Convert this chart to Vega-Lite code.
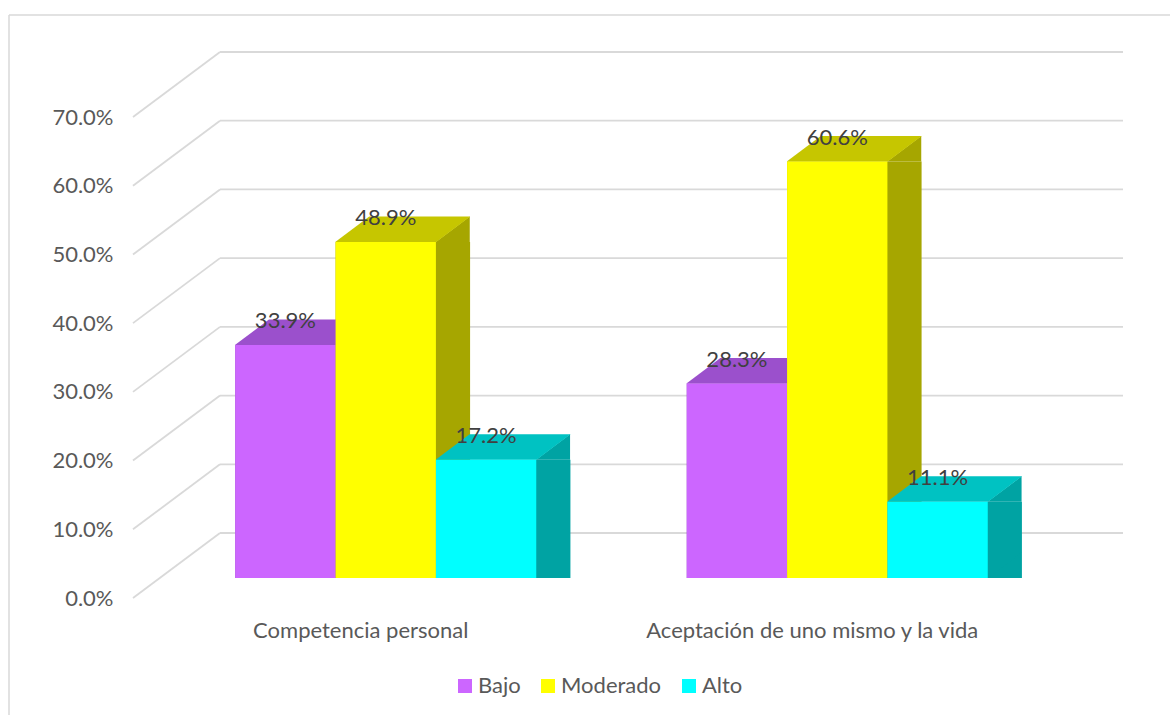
{
  "$schema": "https://vega.github.io/schema/vega-lite/v6.json",
  "width": 903,
  "height": 481,
  "autosize": {"type": "none"},
  "padding": {"left": 160, "top": 97, "right": 107, "bottom": 137},
  "background": "white",
  "config": {
    "view": {"stroke": null},
    "font": "Lato",
    "axis": {"grid": false, "domain": false, "ticks": false, "tickSize": 0, "labelFont": "Lato", "labelFontSize": 22, "labelColor": "#595959", "labelLimit": 600}
  },
  "datasets": {
    "ticks": [{"t": 0}, {"t": 0.1}, {"t": 0.2}, {"t": 0.3}, {"t": 0.4}, {"t": 0.5}, {"t": 0.6}, {"t": 0.7}],
    "bars": [
      {"cat": "Competencia personal", "serie": "Bajo", "v": 0.339},
      {"cat": "Competencia personal", "serie": "Moderado", "v": 0.489},
      {"cat": "Competencia personal", "serie": "Alto", "v": 0.172},
      {"cat": "Aceptación de uno mismo y la vida", "serie": "Bajo", "v": 0.283},
      {"cat": "Aceptación de uno mismo y la vida", "serie": "Moderado", "v": 0.606},
      {"cat": "Aceptación de uno mismo y la vida", "serie": "Alto", "v": 0.111}
    ]
  },
  "layer": [
    {
      "data": {"name": "ticks"},
      "layer": [
        {
          "mark": {"type": "rule", "color": "#d9d9d9", "strokeWidth": 1.8, "xOffset": -27, "x2Offset": 60, "yOffset": 20, "y2Offset": -45},
          "encoding": {
            "x": {"datum": 0, "type": "quantitative", "scale": {"domain": [0, 1]}, "axis": null},
            "x2": {"datum": 0},
            "y": {"field": "t", "type": "quantitative", "scale": {"domain": [0, 0.7], "nice": false},
                  "axis": {"title": null, "values": [0, 0.1, 0.2, 0.3, 0.4, 0.5, 0.6, 0.7], "format": ".1%", "labelPadding": 47, "labelOffset": 20}},
            "y2": {"field": "t"}
          }
        },
        {
          "mark": {"type": "rule", "color": "#d9d9d9", "strokeWidth": 1.8, "xOffset": 60, "x2Offset": 60, "yOffset": -45},
          "encoding": {
            "x": {"datum": 0, "type": "quantitative", "scale": {"domain": [0, 1]}, "axis": null},
            "x2": {"datum": 1},
            "y": {"field": "t", "type": "quantitative", "scale": {"domain": [0, 0.7], "nice": false},
                  "axis": {"title": null, "values": [0, 0.1, 0.2, 0.3, 0.4, 0.5, 0.6, 0.7], "format": ".1%", "labelPadding": 47, "labelOffset": 20}}
          }
        },
        {
          "transform": [{"filter": "datum.t == 0.7"}],
          "mark": {"type": "rule", "color": "#d9d9d9", "strokeWidth": 1.5, "xOffset": -151, "x2Offset": 110, "yOffset": -82},
          "encoding": {
            "x": {"datum": 0, "type": "quantitative", "scale": {"domain": [0, 1]}, "axis": null},
            "x2": {"datum": 1},
            "y": {"field": "t", "type": "quantitative", "scale": {"domain": [0, 0.7], "nice": false},
                  "axis": {"title": null, "values": [0, 0.1, 0.2, 0.3, 0.4, 0.5, 0.6, 0.7], "format": ".1%", "labelPadding": 47, "labelOffset": 20}}
          }
        },
        {
          "transform": [{"filter": "datum.t == 0.7"}],
          "mark": {"type": "rule", "color": "#d9d9d9", "strokeWidth": 1.5, "xOffset": -151, "x2Offset": -151, "yOffset": -82, "y2Offset": 140},
          "encoding": {
            "x": {"datum": 0, "type": "quantitative", "scale": {"domain": [0, 1]}, "axis": null},
            "x2": {"datum": 0},
            "y": {"field": "t", "type": "quantitative", "scale": {"domain": [0, 0.7], "nice": false},
                  "axis": {"title": null, "values": [0, 0.1, 0.2, 0.3, 0.4, 0.5, 0.6, 0.7], "format": ".1%", "labelPadding": 47, "labelOffset": 20}},
            "y2": {"datum": 0}
          }
        }
      ]
    },
    {
      "data": {"name": "bars"},
      "encoding": {
        "x": {"field": "cat", "type": "nominal", "sort": null, "scale": {"paddingInner": 0, "paddingOuter": 0},
              "axis": {"title": null, "labelAngle": 0, "labelPadding": 42, "labelOffset": -25, "labelBaseline": "top", "labelLimit": 600}},
        "xOffset": {"field": "serie", "type": "nominal", "sort": ["Bajo", "Moderado", "Alto"], "scale": {"paddingInner": 0, "paddingOuter": 0.75}},
        "y": {"field": "v", "type": "quantitative", "stack": null, "scale": {"domain": [0, 0.7], "nice": false},
              "axis": {"title": null, "values": [0, 0.1, 0.2, 0.3, 0.4, 0.5, 0.6, 0.7], "format": ".1%", "labelPadding": 47, "labelOffset": 20}}
      },
      "layer": [
        {
          "mark": {"type": "bar", "width": 134.5, "align": "left", "y2Offset": -25.5},
          "encoding": {
            "color": {"field": "serie", "type": "nominal", "scale": {"domain": ["Bajo", "Moderado", "Alto"], "range": ["#8a45b5", "#a6a600", "#00a3a3"]}, "legend": null}
          }
        },
        {
          "mark": {"type": "point", "shape": "M50,0L84,-25.5L84,0Z", "size": 4, "filled": true, "opacity": 1, "strokeWidth": 0},
          "encoding": {
            "color": {"field": "serie", "type": "nominal", "scale": {"domain": ["Bajo", "Moderado", "Alto"], "range": ["#8a45b5", "#a6a600", "#00a3a3"]}, "legend": null}
          }
        },
        {
          "mark": {"type": "point", "shape": "M50,-25.5L50,0L84,-25.5Z", "size": 4, "filled": true, "opacity": 1, "strokeWidth": 0},
          "encoding": {
            "y": {"datum": 0, "type": "quantitative", "scale": {"domain": [0, 0.7], "nice": false},
                  "axis": {"title": null, "values": [0, 0.1, 0.2, 0.3, 0.4, 0.5, 0.6, 0.7], "format": ".1%", "labelPadding": 47, "labelOffset": 20}},
            "color": {"field": "serie", "type": "nominal", "scale": {"domain": ["Bajo", "Moderado", "Alto"], "range": ["#8a45b5", "#a6a600", "#00a3a3"]}, "legend": null}
          }
        },
        {
          "mark": {"type": "point", "shape": "M-50.5,0L50.5,0L84.5,-25.5L-16.5,-25.5Z", "size": 4, "filled": true, "opacity": 1, "strokeWidth": 0},
          "encoding": {
            "color": {"field": "serie", "type": "nominal", "scale": {"domain": ["Bajo", "Moderado", "Alto"], "range": ["#9b50cc", "#c6c600", "#00c2c2"]}, "legend": null}
          }
        },
        {
          "mark": {"type": "bar"},
          "encoding": {
            "color": {"field": "serie", "type": "nominal", "scale": {"domain": ["Bajo", "Moderado", "Alto"], "range": ["#cc66ff", "#ffff00", "#00ffff"]},
                      "legend": {"orient": "none", "legendX": 294, "legendY": 578, "direction": "horizontal", "title": null, "symbolType": "square", "symbolSize": 196, "symbolStrokeWidth": 0, "symbolOpacity": 1, "labelFont": "Lato", "labelFontSize": 22, "labelColor": "#595959", "labelOffset": 2, "columnPadding": 16, "padding": 0}}
          }
        },
        {
          "mark": {"type": "text", "dy": -24, "font": "Lato", "fontSize": 22, "color": "#404040", "baseline": "middle", "align": "center"},
          "encoding": {
            "text": {"field": "v", "type": "quantitative", "format": ".1%"}
          }
        }
      ],
      "resolve": {"scale": {"color": "independent"}}
    }
  ],
  "resolve": {"scale": {"x": "independent"}}
}
